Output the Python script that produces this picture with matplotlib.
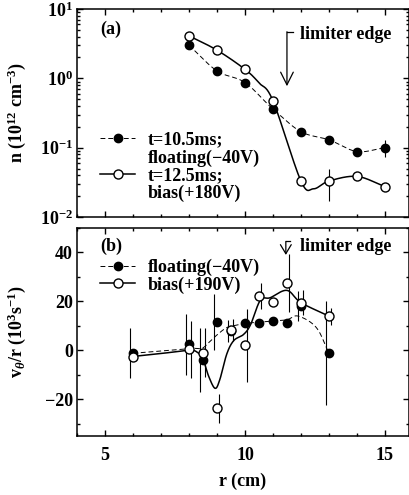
import numpy as np
import matplotlib
matplotlib.use("Agg")
import matplotlib.pyplot as plt
from matplotlib.lines import Line2D
from matplotlib.ticker import MultipleLocator, LogLocator, NullFormatter

# ==================== DATA ====================

# (a) density profiles
r_a = [8, 9, 10, 11, 12, 13, 14, 15]
n_float = [3.0, 1.28, 0.87, 0.36, 0.17, 0.13, 0.088, 0.10]
n_float_err = [0, 0, 0, 0, 0, 0, 0, 0.027]
n_bias = [4.1, 2.55, 1.35, 0.475, 0.033, 0.033, 0.0385, 0.0275]
n_bias_err = [0, 0, 0, 0, 0, 0.016, 0, 0]

# hand drawn guide curve through the bias points
guide_bias_a_r = [8, 9, 10, 10.5, 11, 12, 12.45, 13, 14, 15]
guide_bias_a_n = [4.1, 2.55, 1.35, 0.86, 0.475, 0.033, 0.0255, 0.033, 0.0385, 0.0275]

# (b) rotation profiles
r_b_float = [6, 8, 8.5, 9, 9.5, 10, 10.5, 11, 11.5, 12, 13]
v_float = [-1.2, 2.4, -4.0, 11.6, 8.0, 11.2, 11.3, 12.1, 11.0, 18.1, -1.2]
v_float_err = [10.3, 12.4, 13.0, 11.3, 4.5, 0, 0, 0, 0, 6.0, 21.3]

r_b_bias = [6, 8, 8.5, 9, 9.5, 10, 10.5, 11, 11.5, 12, 13]
v_bias = [-2.7, 0.4, -0.9, -23.7, 8.3, 2.0, 22.2, 19.9, 27.5, 19.5, 14.0]
v_bias_err = [0, 11.5, 10.0, 6.0, 4.5, 15.0, 5.5, 0, 12.0, 5.0, 3.5]

guide_float_b_r = [6, 8, 8.45, 8.7, 9.0, 9.35, 9.7, 10, 11, 11.5, 11.9, 12.55, 13]
guide_float_b_v = [-1.2, 0.7, 0.8, 3.1, 6.3, 9.3, 10.3, 11.0, 12.0, 12.5, 14.0, 9.3, -1.2]

guide_bias_b_r = [6, 7, 8, 8.3, 8.5, 8.7, 8.93, 9.1, 9.35, 9.6, 9.95, 10.2,
                  10.55, 10.9, 11.5, 12, 13]
guide_bias_b_v = [-2.5, -1.3, 0.0, -0.8, -3.5, -10.5, -15.5, -12.0, -1.5, 4.0,
                  6.5, 10.5, 20.5, 21.5, 24.5, 19.5, 14.0]

limiter_r = 11.5

# ==================== STYLE ====================

plt.rcParams['font.family'] = ['Liberation Serif', 'DejaVu Serif']
plt.rcParams['font.weight'] = 'bold'
plt.rcParams['axes.labelweight'] = 'bold'
plt.rcParams['font.size'] = 13
plt.rcParams['mathtext.fontset'] = 'custom'
plt.rcParams['mathtext.rm'] = 'Liberation Serif:bold'
plt.rcParams['mathtext.it'] = 'Liberation Serif:bold:italic'
plt.rcParams['mathtext.bf'] = 'Liberation Serif:bold'

DASH = (0, (5, 3))


def smooth(xs, ys, n=30):
    """Catmull-Rom curve through the given nodes"""
    p = np.column_stack([xs, ys]).astype(float)
    p = np.vstack([2 * p[0] - p[1], p, 2 * p[-1] - p[-2]])
    t = np.linspace(0, 1, n)[:, None]
    out = []
    for i in range(1, len(p) - 2):
        p0, p1, p2, p3 = p[i - 1], p[i], p[i + 1], p[i + 2]
        seg = 0.5 * (2 * p1 + (-p0 + p2) * t
                     + (2 * p0 - 5 * p1 + 4 * p2 - p3) * t ** 2
                     + (-p0 + 3 * p1 - 3 * p2 + p3) * t ** 3)
        out.append(seg if i == 1 else seg[1:])
    out = np.vstack(out)
    return out[:, 0], out[:, 1]


def style_axes(ax):
    ax.set_xlim(4, 15.86)
    ax.xaxis.set_major_locator(MultipleLocator(5))
    ax.xaxis.set_minor_locator(MultipleLocator(1))
    ax.tick_params(which='both', direction='in', top=True, right=True, width=1)
    ax.tick_params(which='major', length=4)
    ax.tick_params(which='minor', length=2.5)
    ax.tick_params(axis='x', pad=8)
    ax.tick_params(axis='y', pad=3)
    for s in ax.spines.values():
        s.set_linewidth(1.1)


def draw_errors(ax, x, y, err, shift):
    for xi, yi, ei in zip(x, y, err):
        if ei > 0:
            ax.errorbar(xi + shift, yi, yerr=ei, fmt='none', ecolor='black',
                        elinewidth=0.8, capsize=0, zorder=2)


def legend_rows(ax, labels, handles, top, spacing):
    leg = ax.legend(handles, labels, loc='upper left', bbox_to_anchor=(0.069, top),
                    frameon=False, handlelength=1.95, handletextpad=0.7,
                    labelspacing=spacing, borderpad=0, borderaxespad=0, numpoints=1,
                    fontsize=13)
    return leg


# ==================== FIGURE ====================

fig = plt.figure(figsize=(4.09, 4.95), dpi=100)
ax1 = fig.add_axes([0.1883, 0.5616, 0.8117, 0.4202])
ax2 = fig.add_axes([0.1883, 0.1192, 0.8117, 0.4202])

# ---------- (a) ----------
ax1.set_yscale('log')
ax1.set_ylim(1e-2, 1e1)

gx, gy = smooth(r_a, np.log10(n_float))
ax1.plot(gx, 10 ** gy, color='black', lw=0.7, ls=DASH, zorder=1)
gx, gy = smooth(guide_bias_a_r, np.log10(guide_bias_a_n))
ax1.plot(gx, 10 ** gy, color='black', lw=1.1, zorder=1)

draw_errors(ax1, r_a, n_float, n_float_err, 0)
draw_errors(ax1, r_a, n_bias, n_bias_err, 0)
ax1.plot(r_a, n_float, 'o', ms=6, mfc='black', mec='black', zorder=3)
ax1.plot(r_a, n_bias, 'o', ms=6.5, mfc='white', mec='black', mew=1, zorder=3)

ax1.set_yticks([1e-2, 1e-1, 1e0, 1e1])
ax1.set_yticklabels(['10$^{-2}$', '10$^{-1}$', '10$^{0}$', '10$^{1}$'])
ax1.yaxis.set_minor_locator(LogLocator(base=10, subs=np.arange(2, 10)))
ax1.yaxis.set_minor_formatter(NullFormatter())
style_axes(ax1)
ax1.set_xticklabels([])
ax1.set_ylabel('n (10$^{12}$ cm$^{-3}$)')
ax1.yaxis.set_label_coords(-0.147, 0.5)

ax1.text(0.069, 0.9, '(a)', transform=ax1.transAxes, va='center', ha='left')
ax1.annotate('', xy=(limiter_r, 0.77), xytext=(limiter_r, 4.7),
             arrowprops=dict(arrowstyle='->,head_length=0.7,head_width=0.35',
                             lw=0.9, color='black', shrinkA=0, shrinkB=0))
ax1.plot([limiter_r, limiter_r + 0.22], [4.7, 4.7], color='black', lw=0.9)
ax1.text(11.96, 4.35, 'limiter edge', va='center', ha='left')

h_f = Line2D([], [], color='black', lw=0.7, ls=DASH, marker='o', ms=6, mfc='black')
h_b = Line2D([], [], color='black', lw=1.1, marker='o', ms=6.5, mfc='white', mec='black')
h_n = Line2D([], [], color='none')
legend_rows(ax1, ['t=10.5ms;', 'floating(\u221240V)', 't=12.5ms;', 'bias(+180V)'],
            [h_f, h_n, h_b, h_n], 0.41, 0.03)

# ---------- (b) ----------
ax2.set_ylim(-35, 50)

gx, gy = smooth(guide_float_b_r, guide_float_b_v)
ax2.plot(gx, gy, color='black', lw=0.7, ls=DASH, zorder=1)
gx, gy = smooth(guide_bias_b_r, guide_bias_b_v)
ax2.plot(gx, gy, color='black', lw=1.1, zorder=1)

draw_errors(ax2, r_b_float, v_float, v_float_err, -0.12)
draw_errors(ax2, r_b_bias, v_bias, v_bias_err, 0.06)
ax2.plot(r_b_float, v_float, 'o', ms=6, mfc='black', mec='black', zorder=3)
ax2.plot(r_b_bias, v_bias, 'o', ms=6.5, mfc='white', mec='black', mew=1, zorder=4)

ax2.yaxis.set_major_locator(MultipleLocator(20))
ax2.yaxis.set_minor_locator(MultipleLocator(10))
style_axes(ax2)
ax2.set_ylabel(r'v$_\theta$/r (10$^3$s$^{-1}$)')
ax2.yaxis.set_label_coords(-0.147, 0.5)
ax2.set_xlabel('r (cm)', labelpad=6)

ax2.text(0.069, 0.913, '(b)', transform=ax2.transAxes, va='center', ha='left')
ax2.annotate('', xy=(limiter_r - 0.04, 39.0), xytext=(limiter_r - 0.04, 44.5),
             arrowprops=dict(arrowstyle='->,head_length=0.5,head_width=0.3',
                             lw=0.9, color='black', shrinkA=0, shrinkB=0))
ax2.plot([limiter_r - 0.04, limiter_r + 0.12], [44.5, 44.5], color='black', lw=0.9)
ax2.text(11.96, 42.4, 'limiter edge', va='center', ha='left')

legend_rows(ax2, ['floating(\u221240V)', 'bias(+190V)'], [h_f, h_b], 0.851, 0.0)

fig.savefig('out.png', dpi=100)
